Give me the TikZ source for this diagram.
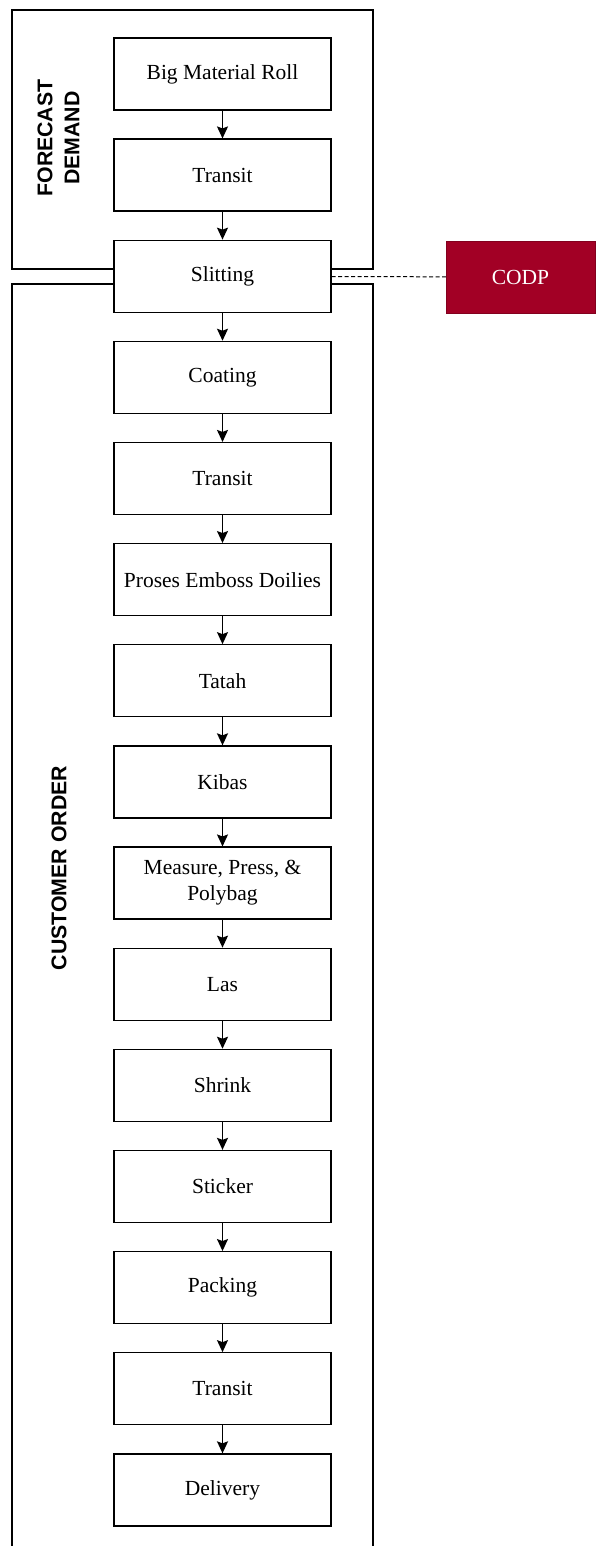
\documentclass[tikz,border=0pt]{standalone}
\usepackage{fontspec}
\setmainfont{Liberation Serif}
\newfontfamily\lanefont{Liberation Sans}
\usepackage{tikz}
\usetikzlibrary{arrows.meta}
\definecolor{codpred}{HTML}{A20025}

\begin{document}
\begin{tikzpicture}[x=1pt,y=-1pt,
    process/.style={rectangle,draw,fill=white,line width=1.3pt,minimum width=217pt,minimum height=72pt,inner sep=0pt,
      align=center,font=\fontsize{21.5}{26}\selectfont},
    lane/.style={rotate=90,align=center,font=\lanefont\bfseries\fontsize{21.3}{27}\selectfont},
    flow/.style={line width=1.5pt,-{Stealth[length=12pt,width=11pt,inset=2pt]}}]

\useasboundingbox (0,0) rectangle (595,1546);

% swim lanes
\draw[line width=1.3pt] (12,10) rectangle (373,269);
\draw[line width=1.3pt] (12,1546) -- (12,284) -- (373,284) -- (373,1546);
\node[lane] (forecast) at (58.5,138) {FORECAST\\DEMAND};
\node[lane] (customer) at (59,868) {CUSTOMER ORDER};

% process steps
\node[process] (roll) at (222.5,74) {Big Material Roll};
\node[process] (transit1) at (222.5,175.1) {Transit};
\node[process] (slitting) at (222.5,276.3) {Slitting};
\node[process] (coating) at (222.5,377.4) {Coating};
\node[process] (transit2) at (222.5,478.6) {Transit};
\node[process] (emboss) at (222.5,579.7) {Proses Emboss Doilies};
\node[process] (tatah) at (222.5,680.8) {Tatah};
\node[process] (kibas) at (222.5,782) {Kibas};
\node[process] (measure) at (222.5,883.1) {Measure, Press, \&\\Polybag};
\node[process] (las) at (222.5,984.3) {Las};
\node[process] (shrink) at (222.5,1085.4) {Shrink};
\node[process] (sticker) at (222.5,1186.5) {Sticker};
\node[process] (packing) at (222.5,1287.7) {Packing};
\node[process] (transit3) at (222.5,1388.8) {Transit};
\node[process] (delivery) at (222.5,1490) {Delivery};

\node[rectangle,fill=codpred,draw=codpred!80!black,minimum width=149pt,minimum height=72pt,inner sep=0pt,
  text=white,font=\fontsize{21.5}{26}\selectfont] (codp) at (520.5,277) {CODP};

\draw[flow] (roll) -- (transit1);
\draw[flow] (transit1) -- (slitting);
\draw[flow] (slitting) -- (coating);
\draw[flow] (coating) -- (transit2);
\draw[flow] (transit2) -- (emboss);
\draw[flow] (emboss) -- (tatah);
\draw[flow] (tatah) -- (kibas);
\draw[flow] (kibas) -- (measure);
\draw[flow] (measure) -- (las);
\draw[flow] (las) -- (shrink);
\draw[flow] (shrink) -- (sticker);
\draw[flow] (sticker) -- (packing);
\draw[flow] (packing) -- (transit3);
\draw[flow] (transit3) -- (delivery);

\draw[line width=1pt,dash pattern=on 4pt off 2.5pt] (slitting) -- (codp);
\end{tikzpicture}
\end{document}
